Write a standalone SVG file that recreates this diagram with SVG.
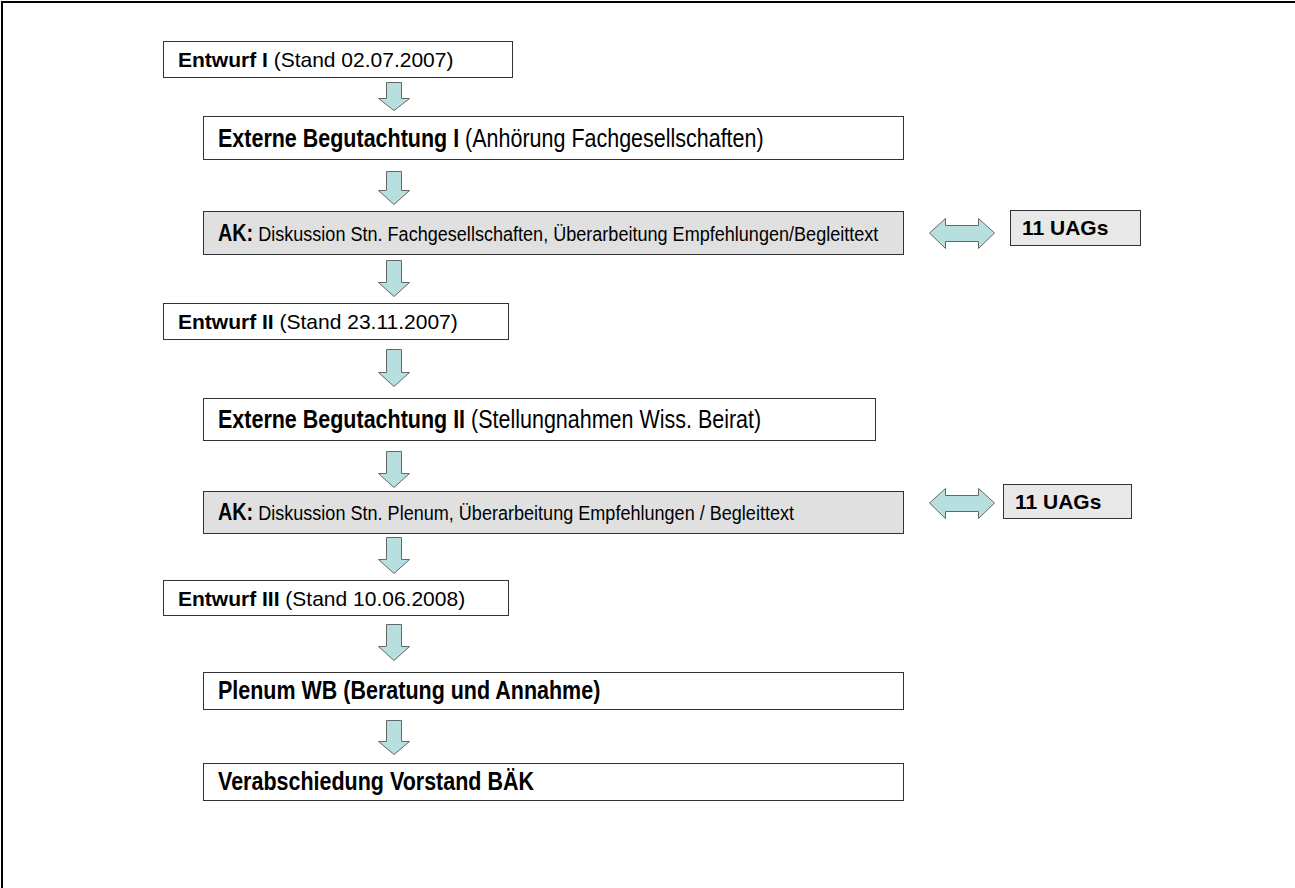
<svg xmlns="http://www.w3.org/2000/svg" width="1295" height="888" viewBox="0 0 1295 888">
<style>
.box{fill:#fff;stroke:#333;stroke-width:1}
.gbox{fill:#e0e0e0;stroke:#333;stroke-width:1}
.ubox{fill:#e8e8e8;stroke:#333;stroke-width:1}
.arr{fill:#b8dfe0;stroke:#666;stroke-width:1}
.t{font-family:"Liberation Sans",Arial,sans-serif;font-size:21px;fill:#000}
.n{font-family:"Liberation Sans",Arial,sans-serif;font-size:25px;fill:#000}
.ak{font-family:"Liberation Sans",Arial,sans-serif;font-size:21px;fill:#000}
.akb{font-size:23px;font-weight:bold}
.b{font-weight:bold}
</style>
<rect x="0" y="0" width="1295" height="888" fill="#fff"/>
<path d="M2,888 V2 H1295" fill="none" stroke="#000" stroke-width="2"/>
<g id="n1"><rect class="box" x="163.5" y="41.5" width="349" height="36"/><text class="t" x="178" y="67"><tspan class="b">Entwurf I</tspan> (Stand 02.07.2007)</text></g>
<g id="n2"><rect class="box" x="203.5" y="116.5" width="700" height="43"/><text class="n" transform="translate(218,147) scale(0.86,1)"><tspan class="b">Externe Begutachtung I</tspan> (Anhörung Fachgesellschaften)</text></g>
<g id="n3"><rect class="gbox" x="203.5" y="211.5" width="700" height="43"/><text class="ak" transform="translate(218,241) scale(0.86,1)"><tspan class="akb">AK:</tspan> Diskussion Stn. Fachgesellschaften, Überarbeitung Empfehlungen/Begleittext</text></g>
<g id="u1"><rect class="ubox" x="1010.5" y="210.5" width="130" height="35"/><text class="t b" x="1022" y="235">11 UAGs</text></g>
<g id="n4"><rect class="box" x="163.5" y="303.5" width="345" height="36"/><text class="t" x="178" y="329"><tspan class="b">Entwurf II</tspan> (Stand 23.11.2007)</text></g>
<g id="n5"><rect class="box" x="203.5" y="398.5" width="672" height="42"/><text class="n" transform="translate(218,428) scale(0.86,1)"><tspan class="b">Externe Begutachtung II</tspan>  (Stellungnahmen Wiss. Beirat)</text></g>
<g id="n6"><rect class="gbox" x="203.5" y="491.5" width="700" height="42"/><text class="ak" transform="translate(218,520) scale(0.86,1)"><tspan class="akb">AK:</tspan> Diskussion Stn. Plenum, Überarbeitung Empfehlungen / Begleittext</text></g>
<g id="u2"><rect class="ubox" x="1003.5" y="484.5" width="128" height="34"/><text class="t b" x="1015" y="509">11 UAGs</text></g>
<g id="n7"><rect class="box" x="163.5" y="580.5" width="345" height="35"/><text class="t" x="178" y="606"><tspan class="b">Entwurf III</tspan>  (Stand 10.06.2008)</text></g>
<g id="n8"><rect class="box" x="203.5" y="672.5" width="700" height="37"/><text class="n b" transform="translate(218,699) scale(0.86,1)">Plenum WB (Beratung und Annahme)</text></g>
<g id="n9"><rect class="box" x="203.5" y="763.5" width="700" height="37"/><text class="n b" transform="translate(218,790) scale(0.86,1)">Verabschiedung Vorstand BÄK</text></g>
<g id="connectors">
<path class="arr" d="M386.5,82.5 H401.5 V98.5 H409.5 L394,110.5 L378.5,98.5 H386.5 Z"/>
<path class="arr" d="M386.5,171.5 H401.5 V190.5 H409.5 L394,204.5 L378.5,190.5 H386.5 Z"/>
<path class="arr" d="M386.5,260.5 H401.5 V282.5 H409.5 L394,296.5 L378.5,282.5 H386.5 Z"/>
<path class="arr" d="M386.5,349.5 H401.5 V372.5 H409.5 L394,386.5 L378.5,372.5 H386.5 Z"/>
<path class="arr" d="M386.5,451.5 H401.5 V473.5 H409.5 L394,487.5 L378.5,473.5 H386.5 Z"/>
<path class="arr" d="M386.5,537.5 H401.5 V559.5 H409.5 L394,573.5 L378.5,559.5 H386.5 Z"/>
<path class="arr" d="M386.5,624.5 H401.5 V646.5 H409.5 L394,660.5 L378.5,646.5 H386.5 Z"/>
<path class="arr" d="M386.5,720.5 H401.5 V741.5 H409.5 L394,754.5 L378.5,741.5 H386.5 Z"/>
<path class="arr" d="M929.5,233 L945.5,218.5 V225.5 H978.5 V218.5 L994.5,233 L978.5,248.5 V241.5 H945.5 V248.5 Z"/>
<path class="arr" d="M929.5,503 L945.5,488.5 V495.5 H978.5 V488.5 L994.5,503 L978.5,518.5 V511.5 H945.5 V518.5 Z"/>
</g>
</svg>
